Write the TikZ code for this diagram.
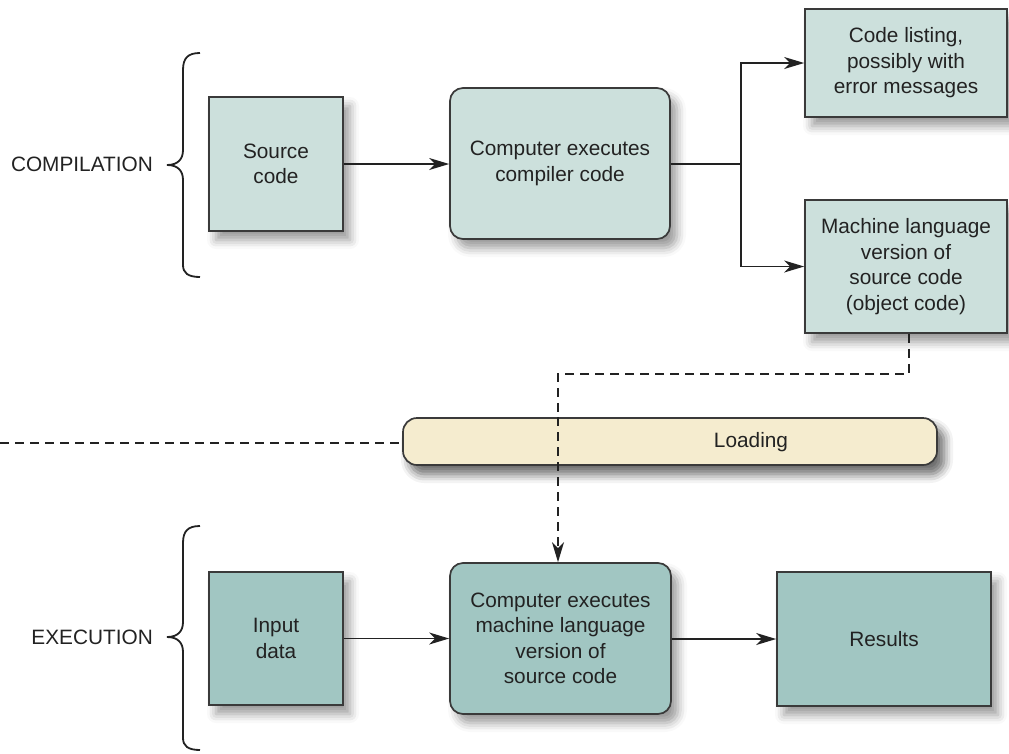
\documentclass[tikz,border=0pt]{standalone}
\usepackage{fontspec}
\setmainfont{Liberation Sans}
\usetikzlibrary{arrows.meta,shadows.blur}
\definecolor{topfill}{HTML}{CCE0DC}
\definecolor{botfill}{HTML}{A1C6C2}
\definecolor{loadfill}{HTML}{F5ECCF}
\definecolor{edge}{HTML}{3A3A3A}
\definecolor{ink}{HTML}{222222}
\tikzset{
  box/.style={draw=edge, line width=1.7pt, align=center, text=ink, inner sep=0pt,
    font=\fontsize{20.8}{25.5}\selectfont,
    blur shadow={shadow xshift=7pt, shadow yshift=-9pt, shadow blur radius=9pt, shadow opacity=40}},
  sqbox/.style={box, rectangle},
  rbox/.style={box, rectangle, rounded corners=13pt},
  tip/.style={-{Stealth[length=20pt,width=12pt,inset=6pt]}},
  arr/.style={draw=ink, line width=1.6pt, tip},
  conn/.style={draw=ink, line width=1.6pt},
  dashline/.style={draw=ink, line width=1.6pt, dash pattern=on 9pt off 6pt},
  lbl/.style={text=ink, font=\fontsize{20.8}{25.5}\selectfont, inner sep=0pt},
  bracepath/.style={draw=ink, line width=1.8pt}
}
\begin{document}
\begin{tikzpicture}[x=1pt,y=-1pt]
\useasboundingbox (0,0) rectangle (1009,753);
% top row
\node[sqbox, fill=topfill, minimum width=134pt, minimum height=134pt] (src) at (276,164) {Source\\code};
\node[rbox, fill=topfill, minimum width=220pt, minimum height=151pt] (comp) at (560,163.5) {Computer executes\\compiler code};
\node[sqbox, fill=topfill, minimum width=202pt, minimum height=108pt] (list) at (906,63) {Code listing,\\possibly with\\error messages};
\node[sqbox, fill=topfill, minimum width=202pt, minimum height=133pt] (mach) at (906,266.5) {Machine language\\version of\\source code\\(object code)};
% loading
\node[rbox, fill=loadfill, rounded corners=14pt, minimum width=534pt, minimum height=47pt,
  blur shadow={shadow xshift=7pt, shadow yshift=-9pt, shadow blur radius=9pt, shadow opacity=35}] (load) at (670,441.5) {};
\node[lbl] (loadtxt) at (751,442) {Loading};
% bottom row
\node[sqbox, fill=botfill, minimum width=134pt, minimum height=133pt] (inp) at (276,638.5) {Input\\data};
\node[rbox, fill=botfill, minimum width=221pt, minimum height=151pt] (exe) at (560.5,638.5) {Computer executes\\machine language\\version of\\source code};
\node[sqbox, fill=botfill, minimum width=214pt, minimum height=134pt] (res) at (884,639) {Results};
% labels
\node[lbl, anchor=east] (complbl) at (153,164) {COMPILATION};
\node[lbl, anchor=east] (execlbl) at (153,637) {EXECUTION};
% braces
\draw[bracepath] (200,53) .. controls (188,53) and (183,58) .. (183,70) -- (183,150)
  .. controls (183,159) and (178,165) .. (167,165)
  .. controls (178,165) and (183,171) .. (183,180) -- (183,265)
  .. controls (183,273) and (188,277) .. (200,277);
\draw[bracepath] (200,526) .. controls (188,526) and (183,531) .. (183,543) -- (183,622)
  .. controls (183,631) and (178,637) .. (167,637)
  .. controls (178,637) and (183,643) .. (183,652) -- (183,738)
  .. controls (183,746) and (188,750) .. (200,750);
% connectors
\draw[arr] (src.east) -- (src.east -| comp.west);
\coordinate (br) at (741,164);
\draw[conn] (comp.east |- br) -- (br);
\draw[arr] (br) |- (list.west);
\draw[arr] (br) |- (mach.west);
\draw[arr] (inp.east) -- (inp.east -| exe.west);
\draw[arr] (exe.east |- res.west) -- (res.west);
% dashed
\coordinate (d1) at (558,374);
\draw[dashline] ([xshift=3pt]mach.south) |- (d1) -- (d1 |- load.north);
\draw[dashline, tip] (d1 |- load.north) -- (d1 |- exe.north);
\coordinate (lft) at (0,443);
\draw[dashline] (lft) -- (lft -| load.west);
\end{tikzpicture}
\end{document}
